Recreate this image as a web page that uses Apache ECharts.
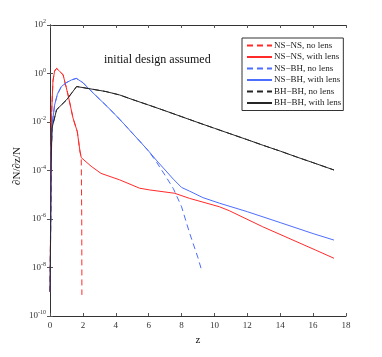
<!DOCTYPE html>
<html>
<head>
<meta charset="utf-8">
<script src="https://cdn.jsdelivr.net/npm/echarts@6/dist/echarts.min.js"></script>
<style>
  html, body { margin: 0; padding: 0; background: #fff; }
  #chart { width: 382px; height: 357px; }
</style>
</head>
<body>
<div id="chart"></div>
<script>
// [z, dN/dz/N]
const nsnsNoLens = [[0.01, 1e-9], [0.05, 3.2e-5], [0.1, 2.5e-2], [0.18, 0.5], [0.28, 1.26], [0.4, 1.62],
  [0.55, 1.32], [0.8, 0.87], [1.1, 0.13], [1.4, 1.45e-2], [1.66, 4.0e-3], [1.82, 6.3e-4], [1.9, 3.4e-4],
  [1.93, 1e-6], [1.94, 7.4e-10]];
const nsnsLens = [[0.01, 1e-9], [0.05, 3.2e-5], [0.1, 2.5e-2], [0.18, 0.5], [0.28, 1.26], [0.4, 1.62],
  [0.55, 1.32], [0.8, 0.87], [1.1, 0.13], [1.4, 1.45e-2], [1.66, 4.0e-3], [1.82, 6.3e-4], [1.9, 3.4e-4],
  [2.5, 1.5e-4], [3.1, 7.6e-5], [4.24, 4.1e-5], [5.45, 1.86e-5], [6.06, 1.58e-5], [7.58, 1.15e-5],
  [8.48, 7.1e-6], [10.3, 3.2e-6], [10.9, 2.2e-6], [12.93, 4.8e-7], [16.16, 5.2e-8], [17.27, 2.4e-8]];
const nsbhNoLens = [[0.01, 1e-9], [0.08, 1e-3], [0.15, 1e-2], [0.28, 5e-2], [0.45, 0.14], [0.69, 0.29],
  [1.0, 0.42], [1.3, 0.54], [1.6, 0.63], [2.0, 0.42], [2.5, 0.19], [3.0, 8.9e-2], [3.5, 4.2e-2],
  [4.0, 1.9e-2], [4.5, 8.3e-3], [5.0, 3.5e-3], [5.5, 1.5e-3], [6.0, 6.3e-4], [6.5, 2.1e-4],
  [7.0, 6.3e-5], [7.5, 1.8e-5], [8.0, 3.2e-6], [8.5, 2.5e-7], [9.0, 2.5e-8], [9.23, 7.2e-9]];
const nsbhLens = [[0.01, 1e-9], [0.08, 1e-3], [0.15, 1e-2], [0.28, 5e-2], [0.45, 0.14], [0.69, 0.29],
  [1.0, 0.42], [1.3, 0.54], [1.6, 0.63], [2.0, 0.42], [2.5, 0.19], [3.0, 8.9e-2], [3.5, 4.2e-2],
  [4.0, 1.9e-2], [4.5, 8.3e-3], [5.0, 3.5e-3], [5.5, 1.5e-3], [6.0, 6.3e-4], [6.5, 2.5e-4],
  [7.0, 1.05e-4], [7.5, 4.4e-5], [8.0, 2.0e-5], [8.5, 1.4e-5], [9.3, 7.6e-6], [10.3, 4.5e-6],
  [12, 2.0e-6], [14, 7.1e-7], [16, 2.5e-7], [17.27, 1.35e-7]];
const bhbhLens = [[0.01, 1e-9], [0.06, 1e-4], [0.12, 5.6e-3], [0.4, 3.2e-2], [1.0, 8.1e-2], [1.62, 0.29],
  [2.5, 0.23], [3.4, 0.18], [4.24, 0.13], [5, 8.5e-2], [6, 5.0e-2], [7, 2.9e-2], [8, 1.66e-2],
  [9, 9.5e-3], [10, 5.5e-3], [11, 3.2e-3], [12, 1.86e-3], [13, 1.07e-3], [14, 6.3e-4], [15, 3.6e-4],
  [16, 2.1e-4], [17.27, 1.05e-4]];
const bhbhNoLens = bhbhLens; // hidden under the solid line

const seriesNames = ['NS\u2212NS, no lens', 'NS\u2212NS, with lens', 'NS\u2212BH, no lens',
  'NS\u2212BH, with lens', 'BH\u2212BH, no lens', 'BH\u2212BH, with lens'];
const titleText = 'initial design assumed';
const yName = '\u2202N/\u2202z/N';

const RED = '#ff2a2a', BLUE = '#4d6dff', BLACK = '#262626';
const font = 'Liberation Serif';

function line(name, data, color, dashed) {
  return {
    name: name,
    type: 'line',
    data: data,
    symbol: 'none',
    showSymbol: false,
    lineStyle: { color: color, width: 1, type: dashed ? [6, 4] : 'solid' },
    itemStyle: { color: color },
    emphasis: { disabled: true },
    z: dashed ? 2 : 3
  };
}

const tickLabel = {
  fontFamily: font, fontSize: 9, color: '#333',
  formatter: function (v) {
    return '10{s|' + Math.round(Math.log10(v)) + '}';
  },
  rich: { s: { fontFamily: font, fontSize: 6, color: '#333', padding: [0, 0, 7, 0] } }
};

const chart = echarts.init(document.getElementById('chart'));
chart.setOption({
  animation: false,
  backgroundColor: '#fff',
  grid: { left: 50, top: 25, width: 296, height: 291 },
  title: {
    text: titleText, left: 99, top: 49,
    textStyle: { fontFamily: font, fontSize: 12, fontWeight: 'normal', color: '#111' }
  },
  // y axis title placed by hand (v6 pushes axis names away from labels)
  graphic: [{
    type: 'text', x: 17, y: 166, rotation: Math.PI / 2,
    style: { text: yName, font: '11px "Liberation Serif"', fill: '#111', align: 'center', verticalAlign: 'middle' }
  }],
  legend: {
    orient: 'vertical', left: 242, top: 38,
    data: seriesNames,
    itemWidth: 25, itemHeight: 2, itemGap: 2.5,
    itemStyle: { opacity: 0 },
    padding: [3, 2, 3, 4],
    borderColor: '#333', borderWidth: 1, backgroundColor: '#fff',
    textStyle: { fontFamily: font, fontSize: 9, color: '#222', padding: [0, 0, 0, -3] },
    selectedMode: false
  },
  xAxis: [{
    type: 'value', min: 0, max: 18, interval: 2,
    name: 'z', nameLocation: 'middle', nameGap: 15,
    nameTextStyle: { fontFamily: font, fontSize: 11, color: '#111' },
    axisLine: { lineStyle: { color: '#333', width: 1 } },
    axisTick: { inside: true, length: 3, lineStyle: { color: '#555' } },
    axisLabel: { fontFamily: font, fontSize: 9, color: '#333', margin: 5 },
    splitLine: { show: false }
  }, {
    type: 'value', min: 0, max: 18, interval: 2, position: 'top',
    axisLine: { lineStyle: { color: '#333', width: 1 } },
    axisTick: { inside: true, length: 3, lineStyle: { color: '#555' } },
    axisLabel: { show: false },
    splitLine: { show: false }
  }],
  yAxis: [{
    type: 'log', logBase: 100, min: 1e-10, max: 1e2,
    axisLine: { show: true, lineStyle: { color: '#333', width: 1 } },
    axisTick: { show: true, inside: true, length: 3, lineStyle: { color: '#555' } },
    axisLabel: Object.assign({ margin: 4 }, tickLabel),
    splitLine: { show: false }
  }, {
    type: 'log', logBase: 100, min: 1e-10, max: 1e2, position: 'right',
    axisLine: { show: true, lineStyle: { color: '#333', width: 1 } },
    axisTick: { show: true, inside: true, length: 3, lineStyle: { color: '#555' } },
    axisLabel: { show: false },
    splitLine: { show: false }
  }],
  series: [
    line(seriesNames[0], nsnsNoLens, RED, true),
    line(seriesNames[1], nsnsLens, RED, false),
    line(seriesNames[2], nsbhNoLens, BLUE, true),
    line(seriesNames[3], nsbhLens, BLUE, false),
    line(seriesNames[4], bhbhNoLens, BLACK, true),
    line(seriesNames[5], bhbhLens, BLACK, false)
  ]
});
</script>
</body>
</html>
